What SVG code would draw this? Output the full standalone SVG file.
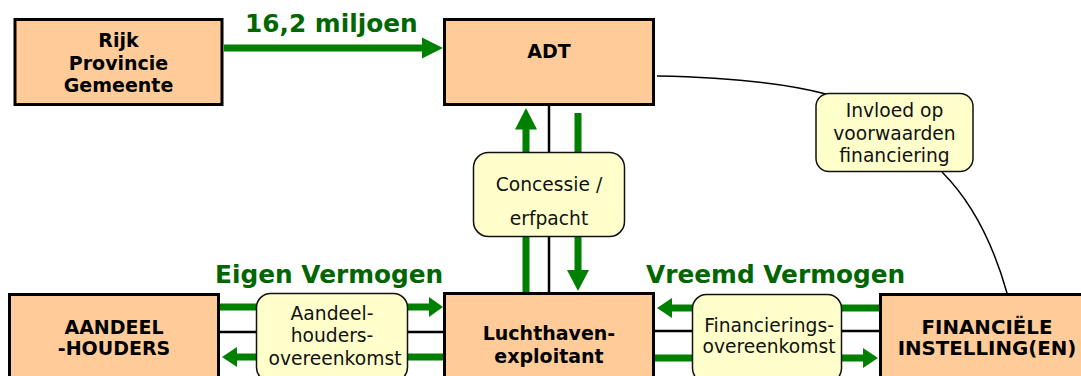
<svg xmlns="http://www.w3.org/2000/svg" width="1081" height="376" viewBox="0 0 1081 376">
<style>
.node{fill:#FFCC99;stroke:#000;stroke-width:3}
.lbl{fill:#FFFFCC;stroke:#111;stroke-width:1.5}
.nt{font-family:"DejaVu Sans",Verdana,sans-serif;font-weight:bold;font-size:19px;fill:#000;text-anchor:middle}
.lt{font-family:"DejaVu Sans",Verdana,sans-serif;font-size:18.7px;fill:#111;text-anchor:middle}
.gt{font-family:"DejaVu Sans",Verdana,sans-serif;font-weight:bold;font-size:24.8px;fill:#006600}
.g{stroke:#008000;stroke-width:7;fill:none}
.gh{fill:#008000}
.k{stroke:#000;stroke-width:2.5;fill:none}
.c{stroke:#000;stroke-width:1.5;fill:none}
</style>
<rect width="1081" height="376" fill="#fff"/>
<g id="connectors">
  <!-- 16,2 miljoen -->
  <line class="g" x1="224" y1="48" x2="423" y2="48"/>
  <polygon class="gh" points="422,37.5 443,48 422,58.5"/>
  <!-- ADT - Luchthaven -->
  <line class="k" x1="549" y1="106" x2="549" y2="293"/>
  <line class="g" x1="526" y1="293" x2="526" y2="128"/>
  <polygon class="gh" points="515,129.5 537,129.5 526,108"/>
  <line class="g" x1="578" y1="113" x2="578" y2="271"/>
  <polygon class="gh" points="567,270 589,270 578,291"/>
  <!-- Aandeelhouders - Luchthaven -->
  <line class="g" x1="220" y1="307" x2="431" y2="307"/>
  <polygon class="gh" points="429,297 443,307 429,317"/>
  <line class="k" x1="220" y1="332" x2="443" y2="332"/>
  <line class="g" x1="236" y1="357" x2="443" y2="357"/>
  <polygon class="gh" points="237,347 222,357 237,367"/>
  <!-- Luchthaven - Financiele -->
  <line class="g" x1="671" y1="308" x2="879" y2="308"/>
  <polygon class="gh" points="672,298 657,308 672,318"/>
  <line class="k" x1="655" y1="331" x2="879" y2="331"/>
  <line class="g" x1="655" y1="358" x2="864" y2="358"/>
  <polygon class="gh" points="863,348 878,358 863,368"/>
  <!-- Invloed curve -->
  <path class="c" d="M657,76 Q765,78 826,94"/>
  <path class="c" d="M942,172 Q985,215 1007,293"/>
</g>
<text class="gt" x="245" y="32">16,2 miljoen</text>
<text class="gt" x="215" y="283">Eigen Vermogen</text>
<text class="gt" x="646" y="283">Vreemd Vermogen</text>
<g id="rijk">
  <rect class="node" x="15" y="19.5" width="207" height="85"/>
  <text class="nt" x="118.5" y="47">Rijk</text>
  <text class="nt" x="118.5" y="70">Provincie</text>
  <text class="nt" x="118.5" y="92">Gemeente</text>
</g>
<g id="adt">
  <rect class="node" x="444.5" y="19.5" width="209" height="85"/>
  <text class="nt" x="549" y="58">ADT</text>
</g>
<g id="aandeelhouders">
  <rect class="node" x="9.5" y="294.5" width="209" height="100"/>
  <text class="nt" x="114" y="334">AANDEEL</text>
  <text class="nt" x="114" y="355">-HOUDERS</text>
</g>
<g id="luchthaven">
  <rect class="node" x="444.5" y="293.5" width="209" height="100"/>
  <text class="nt" x="549" y="340">Luchthaven-</text>
  <text class="nt" x="549" y="363">exploitant</text>
</g>
<g id="financiele">
  <rect class="node" x="880.5" y="294.5" width="215" height="100"/>
  <text class="nt" x="987" y="334" style="font-size:19.8px">FINANCIËLE</text>
  <text class="nt" x="987" y="355" style="font-size:19.8px">INSTELLING(EN)</text>
</g>
<g id="concessie">
  <rect class="lbl" x="473.5" y="152.5" width="151" height="84" rx="15"/>
  <text class="lt" x="549" y="191">Concessie /</text>
  <text class="lt" x="549" y="225">erfpacht</text>
</g>
<g id="invloed">
  <rect class="lbl" x="816" y="93.5" width="157" height="78" rx="13"/>
  <text class="lt" x="894.5" y="117">Invloed op</text>
  <text class="lt" x="894.5" y="140">voorwaarden</text>
  <text class="lt" x="894.5" y="162">financiering</text>
</g>
<g id="aandeelhoudersovereenkomst">
  <rect class="lbl" x="256.5" y="293.5" width="151" height="88" rx="14"/>
  <text class="lt" x="332" y="320">Aandeel-</text>
  <text class="lt" x="332" y="342">houders-</text>
  <text class="lt" x="335" y="365">overeenkomst</text>
</g>
<g id="financieringsovereenkomst">
  <rect class="lbl" x="692.5" y="294.5" width="149" height="88" rx="14"/>
  <text class="lt" x="769" y="332">Financierings-</text>
  <text class="lt" x="769" y="353">overeenkomst</text>
</g>
</svg>
